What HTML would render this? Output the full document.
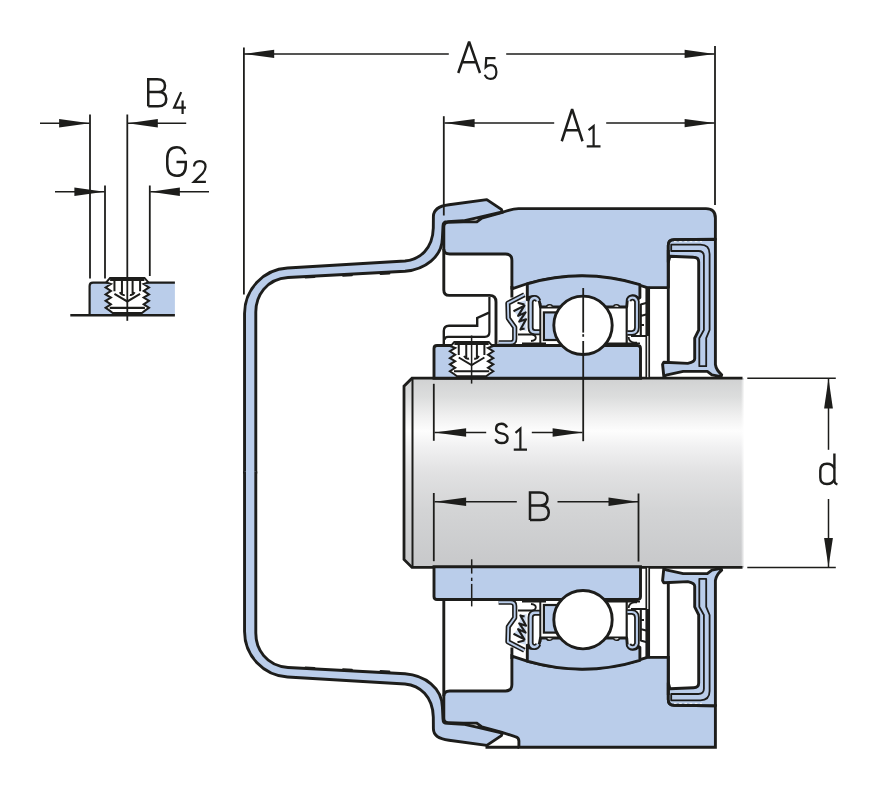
<!DOCTYPE html>
<html><head><meta charset="utf-8"><title>Bearing unit dimensions</title>
<style>html,body{margin:0;padding:0;background:#fff;font-family:"Liberation Sans",sans-serif}svg{display:block}</style></head>
<body>
<svg width="880" height="785" viewBox="0 0 880 785">
<defs>
<linearGradient id="sg" x1="0" y1="378" x2="0" y2="567.5" gradientUnits="userSpaceOnUse">
<stop offset="0" stop-color="#d0d1d2"/><stop offset="0.10" stop-color="#dcdddd"/><stop offset="0.20" stop-color="#f0f0f0"/>
<stop offset="0.28" stop-color="#fdfdfd"/><stop offset="0.36" stop-color="#f1f1f2"/><stop offset="0.50" stop-color="#e1e1e2"/><stop offset="0.70" stop-color="#d3d4d5"/><stop offset="1" stop-color="#c7c8ca"/></linearGradient>
<linearGradient id="fade" x1="741" y1="0" x2="744.5" y2="0" gradientUnits="userSpaceOnUse"><stop offset="0" stop-color="#fff" stop-opacity="0"/><stop offset="1" stop-color="#fff" stop-opacity="1"/></linearGradient>
<g id="half">
<path d="M244.55,473.6 V313.5 A45.55,45.55 0 0 1 287.5,268 L405,261 C420,259.6 432.8,248.5 433.3,228 L433.4,216.5 C433.4,210 438.4,206 449,204.7 L486.8,199.6 L501.4,209.4 L502.4,212 L476.8,217.9 L463.5,220.8 L447.3,221.6 C444.5,221.6 443,222.5 443,226 L442.4,238 C442,257 425,269.6 405,271.2 L288,277.5 C266,279 255.8,296 255.8,312 V473.6" fill="#bacdea" stroke="#1d1d1b" stroke-width="2.9" stroke-linejoin="round"/>
<path d="M305.5,277.68 L314.5,277.16" fill="none" stroke="#1d1d1b" stroke-width="1.7" stroke-linecap="round"/>
<path d="M343.0,275.90 L352.0,275.38" fill="none" stroke="#1d1d1b" stroke-width="1.7" stroke-linecap="round"/>
<path d="M380.5,274.11 L389.5,273.59" fill="none" stroke="#1d1d1b" stroke-width="1.7" stroke-linecap="round"/>
<path d="M511.9,286 V297.5" fill="none" stroke="#1d1d1b" stroke-width="2.9"/>
<path d="M437,345.5 H637.5 Q640.5,345.5 640.5,348.5 V378.2 H434 V348.5 Q434,345.5 437,345.5 Z" fill="#bacdea" stroke="#1d1d1b" stroke-width="2.9"/>
<path d="M527.3,283.8 A196.5,196.5 0 0 1 639.9,284.7 V297.5 L638.2,298.7 C636,294.6 629.5,294.2 627.3,299.8 L626.7,307 H540.5 L539.5,302 C538,295 528.2,295.6 527.3,299.8 Z" fill="#bacdea" stroke="#1d1d1b" stroke-width="2.9" stroke-linejoin="round"/>
<rect x="543.9" y="312.4" width="20" height="27.6" fill="#bacdea" stroke="#1d1d1b" stroke-width="2.2"/>
<path d="M626.7,306.7 V343.6" fill="none" stroke="#1d1d1b" stroke-width="2.2"/>
<path d="M604,343.2 H640" fill="none" stroke="#1d1d1b" stroke-width="1.6"/>
<circle cx="583" cy="325.3" r="29.2" fill="#fff" stroke="#1d1d1b" stroke-width="2.9"/>
<path d="M546.5,307 Q547,304.6 549.5,304.8 Q552,304.6 552.5,306.6" fill="#fff" stroke="#1d1d1b" stroke-width="1.6"/>
<path d="M613.6,306.6 Q614,304.6 616.5,304.8 Q619,304.6 619.5,307" fill="#fff" stroke="#1d1d1b" stroke-width="1.6"/>
<path d="M524.4,294.7 L507.9,303.2 L508.3,318.2 L514.7,327.3 V339 Q514.7,342.8 510.6,342.8 H498.6" fill="none" stroke="#1d1d1b" stroke-width="5.2" stroke-linejoin="round" stroke-linecap="butt"/>
<path d="M524.4,294.7 L507.9,303.2 L508.3,318.2 L514.7,327.3 V339 Q514.7,342.8 510.6,342.8 H498.6" fill="none" stroke="#bacdea" stroke-width="1.9" stroke-linejoin="round"/>
<path d="M526,300 L517.5,302.7 L524.4,305.4 L513.5,311.3 L518.1,315.9 L519.2,321.6 L520.4,329.6 L526.5,331 Z" fill="#bacdea" opacity="0.75"/>
<path d="M517.5,302.7 L524.4,304.4 M513.5,311.3 L524.4,305.6 L518.1,315.9 L525.6,312.4 L519.2,321.6 L526.1,319.3 L520.4,329.6 L524.6,328.5" fill="none" stroke="#1d1d1b" stroke-width="2.1" stroke-linejoin="round"/>
<path d="M538.2,300.8 C536.8,297 531.5,296.8 530.6,301.8 V327.5 Q530.6,332.2 535,332.2 H540" fill="none" stroke="#1d1d1b" stroke-width="6" stroke-linejoin="round"/>
<path d="M538.2,300.8 C536.8,297 531.5,296.8 530.6,301.8 V327.5 Q530.6,332.2 535,332.2 H540" fill="none" stroke="#bacdea" stroke-width="2.4" stroke-linejoin="round"/>
<path d="M540.3,303 V343.8" fill="none" stroke="#1d1d1b" stroke-width="2"/>
<path d="M518,334.5 H532 Q535.5,334.8 535.8,337.5 Q536,340.5 531,341 M522,343.5 H546" fill="none" stroke="#1d1d1b" stroke-width="1.8"/>
<path d="M628.6,300.8 C629.5,296.6 635.5,296.4 636.9,301.5 V327.5 Q636.9,332.6 632,333 H627.5" fill="none" stroke="#1d1d1b" stroke-width="5.6" stroke-linejoin="round"/>
<path d="M628.6,300.8 C629.5,296.6 635.5,296.4 636.9,301.5 V327.5 Q636.9,332.6 632,333 H627.5" fill="none" stroke="#bacdea" stroke-width="2.1" stroke-linejoin="round"/>
<path d="M628.6,337 Q629,342 634,342.6 H637 M631,336 H646" fill="none" stroke="#1d1d1b" stroke-width="1.8"/>
<path d="M640.5,304.4 L647,302.7 M640.5,315.9 L647,314.2 M640.5,325 H644 M640.8,304 V336" fill="none" stroke="#1d1d1b" stroke-width="2.1"/>
<rect x="646.3" y="287.6" width="2.9" height="90.4" fill="#fff" stroke="#1d1d1b" stroke-width="1.7"/>
<path d="M647.75,287.6 V336" fill="none" stroke="#1d1d1b" stroke-width="3.6"/>
<path d="M668.3,262 V245.5 Q668.3,239.8 674,239.8 L715.4,239.2 V364.5 C716,369 718.5,372 721.7,374.8 L721,376.6 L711.9,374.8 L707.3,371.4 H683.2 L667.2,374.8 L663.8,376.4 L662.6,364.5 L663.8,362.2 L687.8,363.4 C692,362.5 694.7,361 694.7,358.8 V338.2 L698.7,330.1 V262 Q698.7,257.3 693.6,257.3 L670,256.2 Z" fill="#bacdea" stroke="#1d1d1b" stroke-width="2.9" stroke-linejoin="round"/>
<path d="M668.3,250 V362.4" fill="none" stroke="#1d1d1b" stroke-width="2.9"/>
<path d="M671.2,244.7 H700.4 Q709.6,244.7 709.6,253.9 V330 L706.2,338.2 V366.2 H699.3 V338.2 L703.9,330 V256.2 Q703.9,251 698.2,251 H671.2 Z" fill="#bacdea" stroke="#1d1d1b" stroke-width="1.8" stroke-linejoin="round"/>
<path d="M674,241.6 H702" fill="none" stroke="#fff" stroke-width="1" stroke-dasharray="2.6,2.6" opacity="0.85"/>
</g>
</defs>
<rect width="880" height="785" fill="#fff"/>
<path d="M412,378.2 H744 V567.4 H412 L404,559.4 V386.2 Z" fill="url(#sg)"/><rect x="740" y="379.6" width="5" height="186.4" fill="url(#fade)"/><path d="M742.5,378.2 H412 L404,386.2 V559.4 L412,567.4 H742.5" fill="none" stroke="#1d1d1b" stroke-width="2.8" stroke-linejoin="miter"/><path d="M412.5,378.2 V567.4" fill="none" stroke="#1d1d1b" stroke-width="2"/>
<g>
<path d="M443.8,249 V227 Q443.8,222.4 448.3,222.3 L463.5,221.9 L476.8,221.9 L481.8,218 L503.4,212 C510,209.6 514,208.6 518.5,208.6 H706 Q715.4,208.6 715.4,218 V239.2 L674,239.8 Q668.3,239.8 668.3,245.5 V287.6 H647.3 A196.5,196.5 0 0 0 511.9,288.8 V260.5 Q511.9,254 505.6,254 H449.8 Q443.8,254 443.8,249 Z" fill="#bacdea" stroke="#1d1d1b" stroke-width="2.9" stroke-linejoin="round"/>
</g>
<g transform="translate(0,945) scale(1,-1)">
<path d="M443.8,249 V227 Q443.8,222.4 448.3,222.3 L463.5,221.9 L476.8,221.9 L481.8,218 L502,212.6 L515.2,208.4 Q518.9,207.6 518.9,204 V197.8 H715.4 V239.2 L674,239.8 Q668.3,239.8 668.3,245.5 V287.6 H647.3 A196.5,196.5 0 0 0 511.9,288.8 V260.5 Q511.9,254 505.6,254 H449.8 Q443.8,254 443.8,249 Z" fill="#bacdea" stroke="#1d1d1b" stroke-width="2.9" stroke-linejoin="miter"/>
<path d="M485.5,197.8 H519" fill="none" stroke="#1d1d1b" stroke-width="2.9"/>
<path d="M443.8,249 V346" fill="none" stroke="#1d1d1b" stroke-width="2.9"/>
</g>
<use href="#half"/>
<use href="#half" transform="translate(0,945) scale(1,-1)"/>
<path d="M443.8,249 V290 Q443.8,295.4 449.2,295.4 H489.5 Q496,295.4 496,302 V345" fill="none" stroke="#1d1d1b" stroke-width="2.9"/><path d="M489.4,297 V332 Q489.4,336.8 484.8,336.8 H448 Q444.6,336.8 444.4,340" fill="none" stroke="#1d1d1b" stroke-width="2.2"/><path d="M443.8,346 V331 Q443.8,325.7 449,325.7 H477.2 V318 L489,312.6" fill="none" stroke="#1d1d1b" stroke-width="2.4"/>
<path d="M454.40,341.90 L450.60,346.30 L455.20,347.90 L449.90,351.25 L455.20,354.70 L449.90,358.10 L455.20,361.20 L449.90,364.40 L455.20,367.80 L449.90,371.25 L454.00,374.00 L457.00,376.30 L486.20,376.30 L489.20,374.00 L493.30,371.25 L488.00,367.80 L493.30,364.40 L488.00,361.20 L493.30,358.10 L488.00,354.70 L493.30,351.25 L488.00,347.90 L492.60,346.30 L488.80,341.90 Z" fill="#fff" stroke="#1d1d1b" stroke-width="2" stroke-linejoin="miter"/><path d="M454.40,343.90 H488.70 M454.00,371.30 H489.20 M458.75,343.90 V355.00 M466.25,343.90 V358.00 M476.90,343.90 V358.00 M484.40,343.90 V355.00 M458.75,357.50 L471.60,365.00 L484.40,357.50 M464.00,356.00 Q466.30,359.50 469.00,358.50 M474.20,358.50 Q476.90,359.50 479.00,356.00" fill="none" stroke="#1d1d1b" stroke-width="2"/>
<path d="M89.6,315.2 V286 Q89.6,282.7 93,282.7 H174.9 V315.2 Z" fill="#bacdea"/><path d="M89.6,315.2 V286 Q89.6,282.7 93,282.7 H174.9" fill="none" stroke="#1d1d1b" stroke-width="2.2"/><path d="M70.3,315.2 H174.9" fill="none" stroke="#1d1d1b" stroke-width="2.6"/><g transform="translate(127.3,277.9) scale(1.0,1.02) translate(-471.6,-341.9)"><path d="M454.40,341.90 L450.60,346.30 L455.20,347.90 L449.90,351.25 L455.20,354.70 L449.90,358.10 L455.20,361.20 L449.90,364.40 L455.20,367.80 L449.90,371.25 L454.00,374.00 L457.00,376.30 L486.20,376.30 L489.20,374.00 L493.30,371.25 L488.00,367.80 L493.30,364.40 L488.00,361.20 L493.30,358.10 L488.00,354.70 L493.30,351.25 L488.00,347.90 L492.60,346.30 L488.80,341.90 Z" fill="#fff" stroke="#1d1d1b" stroke-width="2" stroke-linejoin="miter"/><path d="M454.40,343.90 H488.70 M454.00,371.30 H489.20 M458.75,343.90 V355.00 M466.25,343.90 V358.00 M476.90,343.90 V358.00 M484.40,343.90 V355.00 M458.75,357.50 L471.60,365.00 L484.40,357.50 M464.00,356.00 Q466.30,359.50 469.00,358.50 M474.20,358.50 Q476.90,359.50 479.00,356.00" fill="none" stroke="#1d1d1b" stroke-width="2"/></g>
<g>
<path d="M243.9,47.5 L243.9,294.5" fill="none" stroke="#1d1d1b" stroke-width="1.8" />
<path d="M715,46 L715,205" fill="none" stroke="#1d1d1b" stroke-width="1.8" />
<path d="M244,53.9 L448.8,53.9" fill="none" stroke="#1d1d1b" stroke-width="1.5" />
<path d="M506.2,53.9 L714.5,53.9" fill="none" stroke="#1d1d1b" stroke-width="1.5" />
<path d="M244.2,53.9 L274.20,49.70 L274.20,58.10 Z" fill="#1d1d1b"/>
<path d="M714.6,53.9 L684.60,58.10 L684.60,49.70 Z" fill="#1d1d1b"/>
<path d="M443.8,116.2 L443.8,215.5" fill="none" stroke="#1d1d1b" stroke-width="1.8" />
<path d="M444.5,123.1 L554.2,123.1" fill="none" stroke="#1d1d1b" stroke-width="1.5" />
<path d="M606.2,123.1 L714.5,123.1" fill="none" stroke="#1d1d1b" stroke-width="1.5" />
<path d="M444.6,123.1 L474.60,118.90 L474.60,127.30 Z" fill="#1d1d1b"/>
<path d="M714.6,123.1 L684.60,127.30 L684.60,118.90 Z" fill="#1d1d1b"/>
<path d="M433.8,383.8 L433.8,440.8" fill="none" stroke="#1d1d1b" stroke-width="1.8" />
<path d="M433.8,493 L433.8,561.2" fill="none" stroke="#1d1d1b" stroke-width="1.8" />
<path d="M434.5,432.5 L486.2,432.5" fill="none" stroke="#1d1d1b" stroke-width="1.5" />
<path d="M531.8,432.5 L582.5,432.5" fill="none" stroke="#1d1d1b" stroke-width="1.5" />
<path d="M434.6,432.5 L466.10,428.30 L466.10,436.70 Z" fill="#1d1d1b"/>
<path d="M582.6,432.5 L552.60,436.70 L552.60,428.30 Z" fill="#1d1d1b"/>
<path d="M583.2,288 L583.2,332.6" fill="none" stroke="#1d1d1b" stroke-width="1.8" />
<path d="M583.2,334.2 L583.2,336.8" fill="none" stroke="#1d1d1b" stroke-width="1.8" />
<path d="M583.2,341 L583.2,441.2" fill="none" stroke="#1d1d1b" stroke-width="1.8" />
<path d="M638.5,493.5 L638.5,561.6" fill="none" stroke="#1d1d1b" stroke-width="1.8" />
<path d="M434.5,501.8 L516.8,501.8" fill="none" stroke="#1d1d1b" stroke-width="1.5" />
<path d="M557.5,501.8 L638,501.8" fill="none" stroke="#1d1d1b" stroke-width="1.5" />
<path d="M434.6,501.8 L466.10,497.60 L466.10,506.00 Z" fill="#1d1d1b"/>
<path d="M638,501.8 L608.50,506.00 L608.50,497.60 Z" fill="#1d1d1b"/>
<path d="M747.3,378.2 L835.8,378.2" fill="none" stroke="#1d1d1b" stroke-width="1.5" />
<path d="M747.3,567.4 L835.8,567.4" fill="none" stroke="#1d1d1b" stroke-width="1.5" />
<path d="M828.5,379 L828.5,449.8" fill="none" stroke="#1d1d1b" stroke-width="1.5" />
<path d="M828.5,499 L828.5,567" fill="none" stroke="#1d1d1b" stroke-width="1.5" />
<path d="M828.5,378.6 L832.90,408.60 L824.10,408.60 Z" fill="#1d1d1b"/>
<path d="M828.5,567 L824.10,538.00 L832.90,538.00 Z" fill="#1d1d1b"/>
<path d="M471.6,335.5 L471.6,383.6" fill="none" stroke="#1d1d1b" stroke-width="1.5" />
<path d="M471.7,559.3 L471.7,573.6" fill="none" stroke="#1d1d1b" stroke-width="1.5" />
<path d="M471.7,577.7 L471.7,581" fill="none" stroke="#1d1d1b" stroke-width="1.5" />
<path d="M471.7,583.9 L471.7,606.4" fill="none" stroke="#1d1d1b" stroke-width="1.5" />
<path d="M90,114.5 L90,278.6" fill="none" stroke="#1d1d1b" stroke-width="1.8" />
<path d="M127.3,114.5 L127.3,320.8" fill="none" stroke="#1d1d1b" stroke-width="1.8" />
<path d="M105,185.5 L105,278.6" fill="none" stroke="#1d1d1b" stroke-width="1.8" />
<path d="M149.8,185.5 L149.8,276" fill="none" stroke="#1d1d1b" stroke-width="1.8" />
<path d="M40,123.3 L89.5,123.3" fill="none" stroke="#1d1d1b" stroke-width="1.5" />
<path d="M127.8,123.3 L186.2,123.3" fill="none" stroke="#1d1d1b" stroke-width="1.5" />
<path d="M89.6,123.3 L59.10,127.50 L59.10,119.10 Z" fill="#1d1d1b"/>
<path d="M127.8,123.3 L157.80,119.10 L157.80,127.50 Z" fill="#1d1d1b"/>
<path d="M55,191.8 L104.5,191.8" fill="none" stroke="#1d1d1b" stroke-width="1.5" />
<path d="M150.3,191.8 L209,191.8" fill="none" stroke="#1d1d1b" stroke-width="1.5" />
<path d="M104.4,191.8 L74.40,196.00 L74.40,187.60 Z" fill="#1d1d1b"/>
<path d="M150.4,191.8 L179.90,187.60 L179.90,196.00 Z" fill="#1d1d1b"/>
</g>
<g>
<path d="M458.25,73.00 L469.12,41.70 L480.00,73.00 M461.95,62.20 L476.30,62.20" fill="none" stroke="#1d1d1b" stroke-width="2.5" stroke-linecap="butt" stroke-linejoin="bevel"/>
<path d="M495.48,58.10 H486.24 L485.66,67.25 C487.16,65.80 488.89,65.17 490.62,65.17 C494.67,65.17 496.40,67.88 496.40,72.04 C496.40,76.40 494.09,78.90 490.62,78.90 C487.74,78.90 485.77,77.44 484.85,74.74" fill="none" stroke="#1d1d1b" stroke-width="2.2" stroke-linecap="butt" stroke-linejoin="miter"/>
<path d="M561.75,141.25 L572.12,109.20 L582.50,141.25 M565.28,130.19 L578.97,130.19" fill="none" stroke="#1d1d1b" stroke-width="2.5" stroke-linecap="butt" stroke-linejoin="bevel"/>
<path d="M588.54,130.16 L593.62,126.10 V146.40 M586.75,146.40 H600.50" fill="none" stroke="#1d1d1b" stroke-width="2.2" stroke-linecap="butt" stroke-linejoin="miter"/>
<path d="M148.25,91.94 H158.15 M148.25,106.25 V79.25 H157.25 C163.01,79.25 164.99,81.95 164.99,85.73 C164.99,89.78 163.01,91.94 158.15,91.94 C164.09,91.94 166.25,94.91 166.25,98.96 C166.25,103.55 163.73,106.25 158.15,106.25 H148.25" fill="none" stroke="#1d1d1b" stroke-width="2.5" stroke-linecap="butt" stroke-linejoin="miter"/>
<path d="M181.18,92.10 L174.10,107.70 H185.90 M182.60,100.42 V114.00" fill="none" stroke="#1d1d1b" stroke-width="2.2" stroke-linecap="butt" stroke-linejoin="miter"/>
<path d="M185.38,154.09 C183.90,149.53 181.12,147.25 176.87,147.25 C170.03,147.25 167.25,151.53 167.25,158.65 V164.35 C167.25,171.47 170.03,175.75 176.87,175.75 C182.97,175.75 185.75,171.47 185.75,164.92 V162.07 H176.50" fill="none" stroke="#1d1d1b" stroke-width="2.5" stroke-linecap="butt" stroke-linejoin="miter"/>
<path d="M193.97,166.51 C194.34,162.76 196.68,161.10 199.75,161.10 C203.44,161.10 205.53,163.18 205.53,166.72 C205.53,169.42 204.42,171.08 202.46,173.58 L193.85,181.90 H205.90" fill="none" stroke="#1d1d1b" stroke-width="2.2" stroke-linecap="butt" stroke-linejoin="miter"/>
<path d="M506.94,427.57 C505.74,424.67 503.92,423.70 501.50,423.70 C497.87,423.70 496.06,425.63 496.06,428.92 C496.06,431.83 497.87,432.60 501.50,433.38 C505.74,434.15 507.55,435.31 507.55,438.21 C507.55,441.50 505.13,443.05 501.50,443.05 C498.48,443.05 496.66,442.08 495.45,439.18" fill="none" stroke="#1d1d1b" stroke-width="2.4" stroke-linecap="butt" stroke-linejoin="miter"/>
<path d="M515.51,432.81 L520.38,428.60 V449.65 M513.75,449.65 H527.00" fill="none" stroke="#1d1d1b" stroke-width="2.2" stroke-linecap="butt" stroke-linejoin="miter"/>
<path d="M530.00,505.43 H540.31 M530.00,520.00 V492.50 H539.38 C545.38,492.50 547.44,495.25 547.44,499.10 C547.44,503.23 545.38,505.43 540.31,505.43 C546.50,505.43 548.75,508.45 548.75,512.58 C548.75,517.25 546.12,520.00 540.31,520.00 H530.00" fill="none" stroke="#1d1d1b" stroke-width="2.5" stroke-linecap="butt" stroke-linejoin="miter"/>
<path d="M834.4,453.4 V481 Q834.6,483.6 837.4,484.4" fill="none" stroke="#1d1d1b" stroke-width="2.4" stroke-linecap="butt" stroke-linejoin="miter"/>
<path d="M834.4,468.5 C833,465 830,463.7 827,463.7 C822.5,463.7 820.3,466 820.3,470.5 V477.5 C820.3,481.8 822.5,484 827,484 C830.5,484 833,482.5 834.4,479.2" fill="none" stroke="#1d1d1b" stroke-width="2.4" stroke-linecap="butt" stroke-linejoin="miter"/>
</g>
</svg>
</body></html>
